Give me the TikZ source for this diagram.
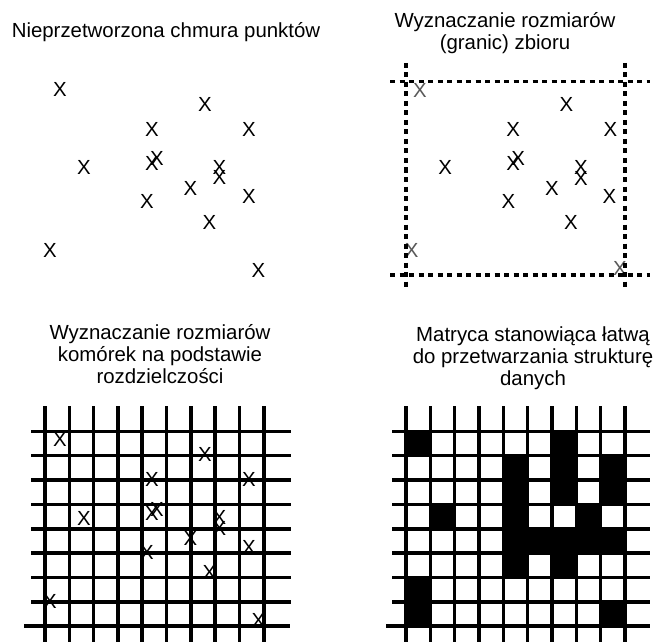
\documentclass[tikz,border=0pt]{standalone}
\usepackage{fontspec}
\setmainfont{Liberation Sans}
\begin{document}
\begin{tikzpicture}[x=1pt,y=-1pt,
  lbl/.style={font=\fontsize{20.4}{24}\selectfont, inner sep=0pt, anchor=base},
  mk/.style={font=\fontsize{20.4}{24}\selectfont, inner sep=0pt},
  mkg/.style={mk, text=black!65},
  gridline/.style={line width=3.6pt},
  bound/.style={line width=3.5pt, dash pattern=on 5pt off 4.5pt},
  cell/.style={fill=black}]
\useasboundingbox (0,0) rectangle (657,642);
% titles
\node[lbl] (t1) at (166,38) {Nieprzetworzona chmura punktów};
\node[lbl] (t2a) at (505,27.3) {Wyznaczanie rozmiarów};
\node[lbl] (t2b) at (505,49.5) {(granic) zbioru};
\node[lbl] (t3a) at (160,339.3) {Wyznaczanie rozmiarów};
\node[lbl] (t3b) at (160,361) {komórek na podstawie};
\node[lbl] (t3c) at (160,383) {rozdzielczości};
\node[lbl] (t4a) at (533,341.3) {Matryca stanowiąca łatwą};
\node[lbl] (t4b) at (533,363) {do przetwarzania strukturę};
\node[lbl] (t4c) at (533,385) {danych};
% point cloud (top left) and its copy over the grid (bottom left)
\foreach \x/\y [count=\i] in {60/89, 205/104, 152/129, 249/129, 84/167.5, 152/163, 157/158.5, 219.5/167, 219.5/177.5, 190.5/188, 147/201.5, 249/196.5, 209.5/222, 50/250.5, 258.5/270}{
  \node[mk] (a\i) at (\x,\y) {X};
  \node[mk] (c\i) at (\x,\y+350.5) {X};
}
% top right points
\foreach \x/\y [count=\i] in {566.3/104, 513.3/129, 610.3/129, 445.3/167.5, 513.3/163, 518.3/158.5, 581/167, 581/178, 552/188, 508.3/201.5, 609.3/196.5, 571/222}{
  \node[mk] (b\i) at (\x,\y) {X};
}
\node[mkg] (g1) at (420,90) {X};
\node[mkg] (g2) at (411.7,250) {X};
\node[mkg] (g3) at (620,268.3) {X};
% bounds
\draw[bound] (406,63) -- (406,290);
\draw[bound] (625,63) -- (625,290);
\draw[bound] (390,81.7) -- (650,81.7);
\draw[bound] (390,275) -- (650,275);
% left grid
\foreach \k in {0,...,9} \draw[gridline] (45+24.3*\k,406) -- (45+24.3*\k,642);
\foreach \k in {0,...,7} \draw[gridline] (31,431.3+24.35*\k) -- (291,431.3+24.35*\k);
\draw[gridline] (24,626) -- (290,626);
% right grid cells
\foreach \c/\r in {1/1,7/1,5/2,7/2,9/2,5/3,7/3,9/3,2/4,5/4,8/4,5/5,6/5,7/5,8/5,9/5,5/6,7/6,1/7,1/8,9/8}
  \fill[cell] (406+24.33*\c-24.33,431.3+24.35*\r-24.35) rectangle +(24.33,24.35);
\foreach \k in {0,...,9} \draw[gridline] (406+24.33*\k,406) -- (406+24.33*\k,642);
\foreach \k in {0,...,7} \draw[gridline] (392,431.3+24.35*\k) -- (650,431.3+24.35*\k);
\draw[gridline] (386,626) -- (650,626);
\end{tikzpicture}
\end{document}
